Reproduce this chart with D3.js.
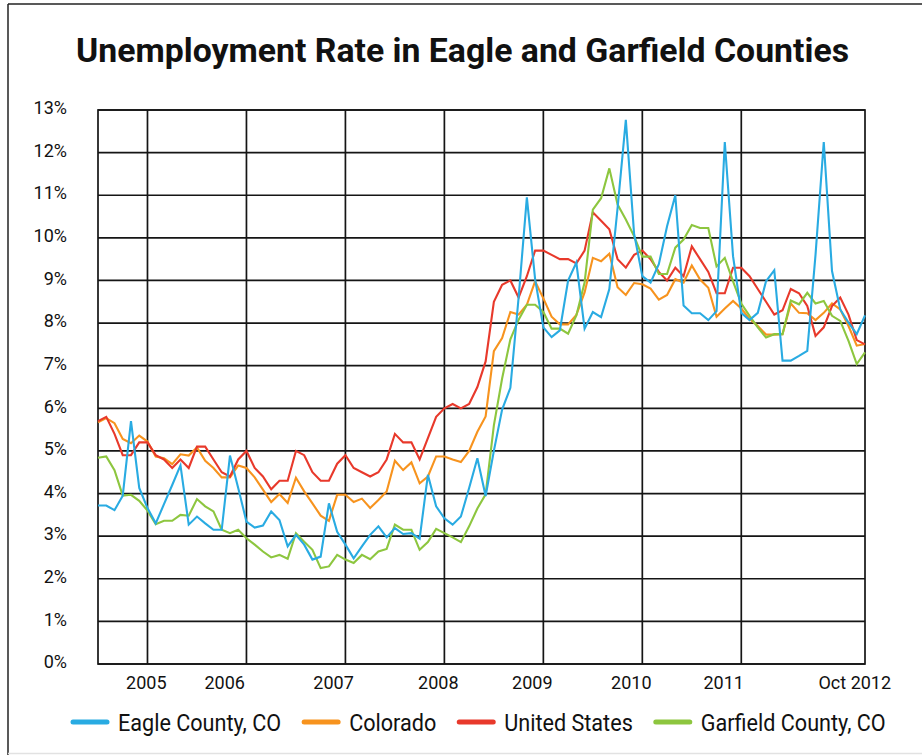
<!DOCTYPE html>
<html>
<head>
<meta charset="utf-8">
<script src="https://cdn.jsdelivr.net/npm/d3@7"></script>
<style>
  html, body { margin: 0; padding: 0; background: #fff; }
  svg { display: block; }
  text { font-family: Roboto, "Noto Sans", sans-serif; fill: #111; }
</style>
</head>
<body>
<svg id="chart" width="922" height="755"></svg>
<script>
// ---------------- DATA ----------------
const title = "Unemployment Rate in Eagle and Garfield Counties";
const firstMonth = new Date(2005, 0, 1);   // Jan 2005
const lastMonth  = new Date(2012, 9, 1);   // Oct 2012
const months = d3.timeMonths(firstMonth, d3.timeDay.offset(lastMonth, 1)); // 94 monthly points

const seriesNames = ["Eagle County, CO", "Colorado", "United States", "Garfield County, CO"];
const seriesColors = ["#29abe2", "#f7931e", "#e8392b", "#8dc63f"];

const eagle = [
  3.72, 3.72, 3.61, 3.95, 5.70, 4.13, 3.66, 3.30, 3.75, 4.20, 4.66, 3.27,
  3.46, 3.30, 3.15, 3.15, 4.89, 4.13, 3.34, 3.20, 3.25, 3.58, 3.38, 2.76,
  3.03, 2.80, 2.45, 2.52, 3.77, 3.10, 2.80, 2.48, 2.76, 3.03, 3.23, 2.97,
  3.19, 3.05, 3.07, 2.94, 4.44, 3.70, 3.42, 3.27, 3.46, 4.13, 4.83, 3.94,
  5.00, 5.97, 6.48, 8.60, 10.95, 9.03, 7.90, 7.67, 7.83, 9.00, 9.42, 7.87,
  8.26, 8.14, 8.80, 10.70, 12.77, 10.10, 9.10, 8.95, 9.38, 10.27, 11.00, 8.41,
  8.23, 8.23, 8.07, 8.28, 12.25, 9.57, 8.24, 8.07, 8.24, 8.98, 9.24, 7.12,
  7.12, 7.23, 7.35, 9.60, 12.25, 9.22, 8.32, 8.01, 7.74, 8.18
];
const colorado = [
  5.67, 5.77, 5.65, 5.28, 5.18, 5.36, 5.22, 4.87, 4.83, 4.69, 4.92, 4.89,
  5.08, 4.77, 4.60, 4.38, 4.38, 4.66, 4.60, 4.38, 4.09, 3.80, 3.99, 3.78,
  4.37, 4.05, 3.77, 3.48, 3.36, 3.97, 3.97, 3.80, 3.88, 3.66, 3.85, 4.05,
  4.77, 4.55, 4.73, 4.24, 4.40, 4.87, 4.87, 4.80, 4.74, 5.00, 5.45, 5.81,
  7.34, 7.65, 8.26, 8.20, 8.43, 8.98, 8.58, 8.15, 7.97, 7.97, 8.19, 8.72,
  9.53, 9.45, 9.63, 8.84, 8.66, 8.94, 8.91, 8.81, 8.55, 8.66, 9.03, 8.95,
  9.35, 9.02, 8.83, 8.15, 8.34, 8.52, 8.34, 8.10, 7.93, 7.73, 7.73, 7.74,
  8.46, 8.24, 8.23, 8.07, 8.24, 8.46, 8.32, 7.93, 7.47, 7.51
];
const unitedStates = [
  5.7, 5.8, 5.4, 4.9, 4.9, 5.2, 5.2, 4.9, 4.8, 4.6, 4.8, 4.6,
  5.1, 5.1, 4.8, 4.5, 4.4, 4.8, 5.0, 4.6, 4.4, 4.1, 4.3, 4.3,
  5.0, 4.9, 4.5, 4.3, 4.3, 4.7, 4.9, 4.6, 4.5, 4.4, 4.5, 4.8,
  5.4, 5.2, 5.2, 4.8, 5.3, 5.8, 6.0, 6.1, 6.0, 6.1, 6.5, 7.1,
  8.5, 8.9, 9.0, 8.6, 9.1, 9.7, 9.7, 9.6, 9.5, 9.5, 9.4, 9.7,
  10.6, 10.4, 10.2, 9.5, 9.3, 9.6, 9.7, 9.5, 9.2, 9.0, 9.3, 9.1,
  9.8, 9.5, 9.2, 8.7, 8.7, 9.3, 9.3, 9.1, 8.8, 8.5, 8.2, 8.3,
  8.8, 8.7, 8.4, 7.7, 7.9, 8.4, 8.6, 8.2, 7.6, 7.5
];
const garfield = [
  4.84, 4.87, 4.55, 3.95, 3.97, 3.83, 3.60, 3.28, 3.36, 3.36, 3.50, 3.48,
  3.87, 3.70, 3.58, 3.15, 3.07, 3.15, 2.95, 2.80, 2.64, 2.50, 2.56, 2.47,
  3.07, 2.87, 2.68, 2.25, 2.29, 2.56, 2.45, 2.37, 2.56, 2.46, 2.64, 2.70,
  3.27, 3.15, 3.15, 2.68, 2.86, 3.17, 3.07, 2.97, 2.86, 3.23, 3.65, 3.98,
  5.60, 6.70, 7.62, 8.08, 8.43, 8.43, 8.26, 7.87, 7.87, 7.75, 8.18, 8.95,
  10.66, 10.93, 11.63, 10.78, 10.43, 10.04, 9.56, 9.56, 9.15, 9.15, 9.77, 9.96,
  10.30, 10.23, 10.23, 9.33, 9.53, 8.98, 8.46, 8.17, 7.90, 7.66, 7.74, 7.74,
  8.53, 8.44, 8.71, 8.46, 8.52, 8.17, 8.05, 7.58, 7.04, 7.31
];

const yTicks = [0, 1, 2, 3, 4, 5, 6, 7, 8, 9, 10, 11, 12, 13];
// vertical grid lines: July of each year
const gridMonths = ["2005-07", "2006-07", "2007-07", "2008-07", "2009-07", "2010-07", "2011-07"];
// x-axis labels and where they sit (in month index units)
const xTickLabels = ["2005", "2006", "2007", "2008", "2009", "2010", "2011", "Oct 2012"];
const xTickAt = [5.8, 15.3, 28.5, 41.2, 52.6, 64.6, 75.8, 91.7];

// ---------------- DRAW ----------------
const svg = d3.select("#chart");
const W = 922, H = 755;
const plot = { left: 98, right: 865, top: 110, bottom: 664 };

const fmt = d3.timeFormat("%Y-%m");
const monthKeys = months.map(fmt);

const x = d3.scaleLinear().domain([0, months.length - 1]).range([plot.left, plot.right]);
const y = d3.scaleLinear().domain([0, 13]).range([plot.bottom, plot.top]);

// outer frame
svg.append("line").attr("x1", 8).attr("x2", 8).attr("y1", 4).attr("y2", H)
  .attr("stroke", "#222").attr("stroke-width", 1.5);
svg.append("line").attr("x1", 8).attr("x2", W).attr("y1", 4).attr("y2", 4)
  .attr("stroke", "#222").attr("stroke-width", 1.5);
svg.append("line").attr("x1", 8).attr("x2", W).attr("y1", 753.5).attr("y2", 753.5)
  .attr("stroke", "#e2e2e2").attr("stroke-width", 1.5);

// title
const t = svg.append("text")
  .attr("x", (76 + 849) / 2).attr("y", 62)
  .attr("text-anchor", "middle")
  .style("font-weight", 700).style("font-size", "33px")
  .text(title);
t.attr("textLength", 773).attr("lengthAdjust", "spacingAndGlyphs");

// grid
const grid = svg.append("g").attr("stroke", "#151515").attr("stroke-width", 1.7).attr("fill", "none");
grid.selectAll("line.h").data(yTicks).join("line")
  .attr("x1", plot.left).attr("x2", plot.right)
  .attr("y1", d => y(d)).attr("y2", d => y(d));
grid.selectAll("line.v").data(gridMonths).join("line")
  .attr("x1", d => x(monthKeys.indexOf(d))).attr("x2", d => x(monthKeys.indexOf(d)))
  .attr("y1", plot.top).attr("y2", plot.bottom);
grid.append("rect")
  .attr("x", plot.left).attr("y", plot.top)
  .attr("width", plot.right - plot.left).attr("height", plot.bottom - plot.top);

// y axis labels
const yAxis = d3.axisLeft(y).tickValues(yTicks).tickFormat(d => d + "%").tickSize(0).tickPadding(0);
const gy = svg.append("g").attr("transform", `translate(67,-2)`).call(yAxis);
gy.select(".domain").remove();
gy.selectAll("text").style("font-size", "18px").attr("fill", "#111")
  .style("font-family", "Roboto, sans-serif");

// x axis labels
const xAxis = d3.axisBottom(x).tickValues(xTickAt).tickFormat((d, i) => xTickLabels[i]).tickSize(0).tickPadding(0);
const gx = svg.append("g").attr("transform", `translate(0,${plot.bottom + 12})`).call(xAxis);
gx.select(".domain").remove();
gx.selectAll("text").style("font-size", "18px").attr("fill", "#111")
  .style("font-family", "Roboto, sans-serif");

// series
const allSeries = [eagle, colorado, unitedStates, garfield];
const drawOrder = [1, 2, 3, 0];
const line = d3.line().x((d, i) => x(i)).y(d => y(d));
const lines = svg.append("g").attr("fill", "none");
drawOrder.forEach(k => {
  lines.append("path")
    .datum(allSeries[k])
    .attr("d", line)
    .attr("stroke", seriesColors[k])
    .attr("stroke-width", 2.1)
    .attr("stroke-linejoin", "miter")
    .attr("stroke-miterlimit", 4);
});

// legend
const legend = svg.append("g").attr("transform", "translate(71,722)");
let lx = 0;
seriesNames.forEach((name, k) => {
  legend.append("line")
    .attr("x1", lx + 2).attr("x2", lx + 36).attr("y1", 0).attr("y2", 0)
    .attr("stroke", seriesColors[k]).attr("stroke-width", 5).attr("stroke-linecap", "round");
  const tx = legend.append("text")
    .attr("x", lx + 47).attr("y", 0).attr("dy", "0.36em")
    .style("font-size", "24px")
    .text(name);
  const w = tx.node().getComputedTextLength() * 0.9;
  tx.attr("textLength", w).attr("lengthAdjust", "spacingAndGlyphs");
  lx += 47 + w + 21;
});
</script>
</body>
</html>
